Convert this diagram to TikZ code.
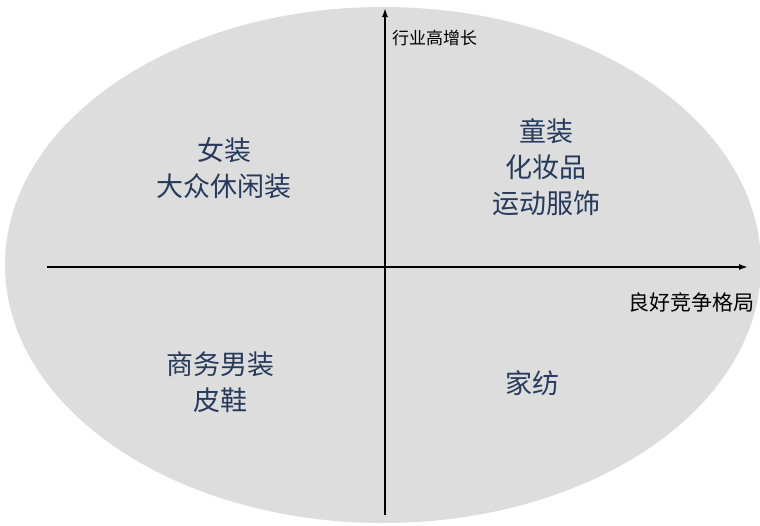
\documentclass[tikz,border=0pt]{standalone}
\usepackage{fontspec}
\setmainfont{Noto Sans CJK SC}
\newfontfamily\cjk{Noto Sans CJK SC}
\usetikzlibrary{arrows.meta}
\definecolor{ellfill}{RGB}{221,221,221}
\definecolor{qtext}{RGB}{38,58,92}
\begin{document}
\begin{tikzpicture}[x=1pt,y=-1pt,
  axis/.style={line width=1.6pt,black,-{Latex[length=9pt,width=6pt]}},
  quad/.style={text=qtext,font=\cjk\fontsize{27}{36}\selectfont,align=center,inner sep=0pt},
  axlab/.style={text=black,font=\cjk\fontsize{17}{20}\selectfont,inner sep=0pt}]
\useasboundingbox (0,0) rectangle (760,525);
\fill[ellfill] (383,265) ellipse [x radius=378, y radius=258];
\coordinate (hl) at (47,267);
\coordinate (hr) at (748,267);
\coordinate (vb) at (385,515);
\coordinate (vt) at (385,8);
\draw[axis] (hl) -- (hr);
\draw[axis] (vb) -- (vt);
\node[axlab,anchor=west] (ylab) at (392,38) {行业高增长};
\node[axlab,anchor=east,font=\cjk\fontsize{21}{24}\selectfont] (xlab) at (755,302) {良好竞争格局};
\node[quad] (q2) at (224,168) {女装\\大众休闲装};
\node[quad] (q1) at (546,167) {童装\\化妆品\\运动服饰};
\node[quad] (q3) at (220,382) {商务男装\\皮鞋};
\node[quad] (q4) at (532,383) {家纺};
\end{tikzpicture}
\end{document}
